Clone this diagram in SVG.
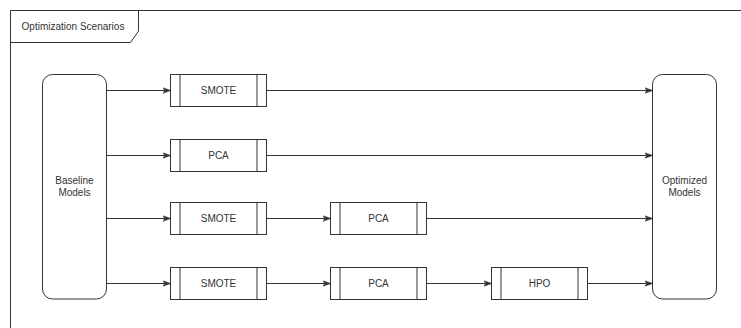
<svg xmlns="http://www.w3.org/2000/svg" width="741" height="328" viewBox="0 0 741 328">
<style>
.f{fill:#fff;stroke:#333;stroke-width:1}
.l{fill:none;stroke:#333;stroke-width:1}
.c{fill:none;stroke:#333;stroke-width:1;marker-end:url(#ah)}
text{font-family:"Liberation Sans",Arial,sans-serif;font-size:10px;fill:#333;text-anchor:middle}
</style>
<defs>
<marker id="ah" viewBox="0 0 10 10" refX="9" refY="5" markerWidth="8" markerHeight="8" markerUnits="userSpaceOnUse" orient="auto">
<path d="M0,1.5 L10,5 L0,8.5 L2.5,5 Z" fill="#333" stroke="#333" stroke-width="0.6"/>
</marker>
</defs>
<rect width="741" height="328" fill="#fff"/>
<g id="frame">
<path class="l" d="M741,10.5 H10.5 V328"/>
<path class="l" d="M10.5,10.5 H138.5 V31 L130.5,42.5 H10.5"/>
<text x="73" y="29.5">Optimization Scenarios</text>
</g>
<g id="baseline">
<rect class="f" x="42.5" y="74.5" width="64" height="224.5" rx="10"/>
<text x="74.5" y="184">Baseline</text>
<text x="74.5" y="196">Models</text>
</g>
<g id="optimized">
<rect class="f" x="652.5" y="74.5" width="64" height="224.5" rx="10"/>
<text x="684.5" y="184">Optimized</text>
<text x="684.5" y="196">Models</text>
</g>
<g id="smote1">
<rect class="f" x="170.5" y="74.5" width="96" height="32"/>
<path class="l" d="M180,74.5 V106.5 M257,74.5 V106.5"/>
<text x="218.5" y="94">SMOTE</text>
</g>
<g id="pca1">
<rect class="f" x="170.5" y="139.5" width="96" height="32"/>
<path class="l" d="M180,139.5 V171.5 M257,139.5 V171.5"/>
<text x="218.5" y="159">PCA</text>
</g>
<g id="smote2">
<rect class="f" x="170.5" y="202.5" width="96" height="32"/>
<path class="l" d="M180,202.5 V234.5 M257,202.5 V234.5"/>
<text x="218.5" y="222">SMOTE</text>
</g>
<g id="pca2">
<rect class="f" x="330.5" y="202.5" width="96" height="32"/>
<path class="l" d="M340,202.5 V234.5 M417,202.5 V234.5"/>
<text x="378.5" y="222">PCA</text>
</g>
<g id="smote3">
<rect class="f" x="170.5" y="267.5" width="96" height="32"/>
<path class="l" d="M180,267.5 V299.5 M257,267.5 V299.5"/>
<text x="218.5" y="287">SMOTE</text>
</g>
<g id="pca3">
<rect class="f" x="330.5" y="267.5" width="96" height="32"/>
<path class="l" d="M340,267.5 V299.5 M417,267.5 V299.5"/>
<text x="378.5" y="287">PCA</text>
</g>
<g id="hpo">
<rect class="f" x="491.5" y="267.5" width="96" height="32"/>
<path class="l" d="M501,267.5 V299.5 M578,267.5 V299.5"/>
<text x="539.5" y="287">HPO</text>
</g>
<g id="connectors">
<path class="c" d="M106.5,90.5 H170"/>
<path class="c" d="M266.5,90.5 H652"/>
<path class="c" d="M106.5,155.5 H170"/>
<path class="c" d="M266.5,155.5 H652"/>
<path class="c" d="M106.5,218.5 H170"/>
<path class="c" d="M266.5,218.5 H330"/>
<path class="c" d="M426.5,218.5 H652"/>
<path class="c" d="M106.5,283.5 H170"/>
<path class="c" d="M266.5,283.5 H330"/>
<path class="c" d="M426.5,283.5 H491"/>
<path class="c" d="M587.5,283.5 H652"/>
</g>
</svg>
